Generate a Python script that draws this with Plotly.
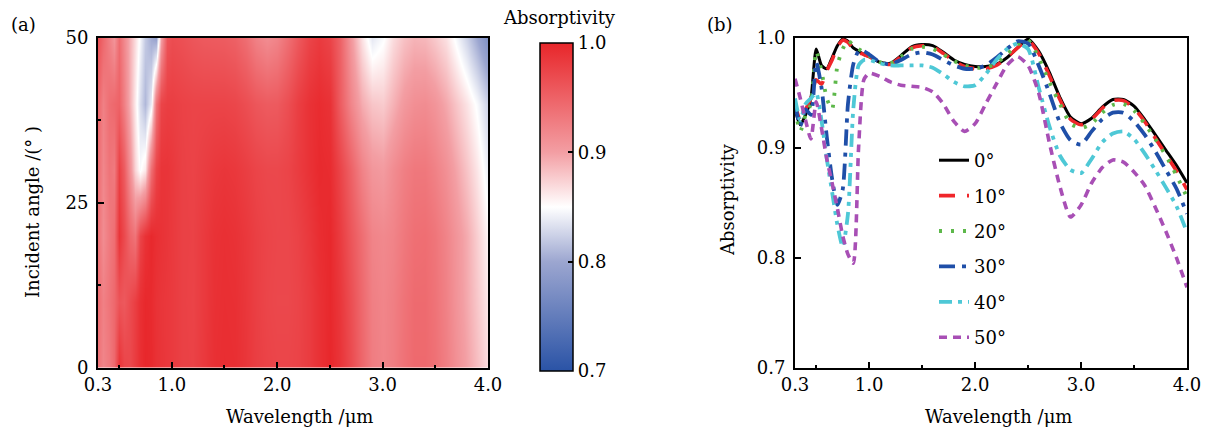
import plotly.graph_objects as go

# ---------------- data ----------------
wavelength = [0.30, 0.35, 0.40, 0.45, 0.50, 0.55, 0.60, 0.65, 0.70, 0.75, 0.80, 0.85, 0.90, 0.95,
              1.00, 1.10, 1.20, 1.30, 1.40, 1.50, 1.60, 1.70, 1.80, 1.90, 2.00, 2.10, 2.20, 2.30,
              2.40, 2.50, 2.60, 2.70, 2.80, 2.90, 3.00, 3.10, 3.20, 3.30, 3.40, 3.50, 3.60, 3.70,
              3.80, 3.90, 4.00]

angles = [0, 10, 20, 30, 40, 50]
angle_labels = ["0°", "10°", "20°", "30°", "40°", "50°"]

a0 = [0.935, 0.921, 0.930, 0.945, 0.990, 0.975, 0.972, 0.982, 0.993, 0.999, 0.997, 0.991, 0.988, 0.985,
      0.983, 0.978, 0.977, 0.984, 0.992, 0.994, 0.993, 0.987, 0.980, 0.976, 0.974, 0.974, 0.976, 0.982,
      0.991, 0.999, 0.988, 0.969, 0.946, 0.928, 0.922, 0.927, 0.937, 0.944, 0.944, 0.938, 0.926, 0.912,
      0.898, 0.884, 0.868]
a10 = [0.940, 0.925, 0.935, 0.945, 0.962, 0.958, 0.970, 0.980, 0.992, 0.998, 0.996, 0.990, 0.987, 0.985,
       0.983, 0.978, 0.976, 0.983, 0.991, 0.993, 0.992, 0.986, 0.979, 0.974, 0.972, 0.972, 0.975, 0.982,
       0.991, 0.998, 0.986, 0.966, 0.944, 0.926, 0.921, 0.926, 0.936, 0.943, 0.943, 0.936, 0.924, 0.909,
       0.894, 0.879, 0.862]
a20 = [0.935, 0.915, 0.930, 0.940, 0.988, 0.970, 0.945, 0.935, 0.975, 0.990, 0.998, 0.993, 0.990, 0.987,
       0.984, 0.978, 0.977, 0.983, 0.990, 0.992, 0.990, 0.985, 0.979, 0.975, 0.973, 0.973, 0.977, 0.985,
       0.994, 0.998, 0.982, 0.960, 0.940, 0.922, 0.918, 0.922, 0.932, 0.939, 0.940, 0.934, 0.922, 0.908,
       0.893, 0.875, 0.855]
a30 = [0.940, 0.920, 0.935, 0.930, 0.978, 0.955, 0.910, 0.872, 0.848, 0.862, 0.940, 0.976, 0.988, 0.988,
       0.985, 0.978, 0.976, 0.980, 0.985, 0.987, 0.985, 0.980, 0.975, 0.972, 0.972, 0.975, 0.982, 0.990,
       0.997, 0.995, 0.975, 0.950, 0.923, 0.907, 0.903, 0.915, 0.926, 0.932, 0.932, 0.924, 0.912, 0.897,
       0.880, 0.863, 0.840]
a40 = [0.945, 0.925, 0.940, 0.945, 0.950, 0.925, 0.890, 0.860, 0.830, 0.810, 0.840, 0.935, 0.975, 0.980,
       0.980, 0.977, 0.975, 0.975, 0.975, 0.975, 0.973, 0.967, 0.960, 0.956, 0.957, 0.967, 0.980, 0.990,
       0.995, 0.990, 0.955, 0.920, 0.893, 0.880, 0.877, 0.890, 0.905, 0.913, 0.915, 0.908, 0.895, 0.880,
       0.864, 0.847, 0.823]
a50 = [0.963, 0.945, 0.925, 0.908, 0.942, 0.918, 0.890, 0.868, 0.845, 0.820, 0.803, 0.795, 0.900, 0.962,
       0.968, 0.965, 0.960, 0.957, 0.956, 0.955, 0.951, 0.940, 0.924, 0.915, 0.922, 0.940, 0.958, 0.975,
       0.983, 0.975, 0.950, 0.905, 0.865, 0.837, 0.848, 0.868, 0.882, 0.889, 0.887, 0.878, 0.866, 0.846,
       0.824, 0.800, 0.773]

series = [a0, a10, a20, a30, a40, a50]

x_ticks = [0.3, 1.0, 2.0, 3.0, 4.0]
x_ticktext = ["0.3", "1.0", "2.0", "3.0", "4.0"]
x_minor = [0.5, 1.5, 2.5, 3.5]
ya_ticks = [0, 25, 50]
ya_minor = [12.5, 37.5]
yb_ticks = [0.7, 0.8, 0.9, 1.0]
yb_ticktext = ["0.7", "0.8", "0.9", "1.0"]
cb_ticks = [0.7, 0.8, 0.9, 1.0]

# ---------------- styles ----------------
W, H = 1207, 430
FONT = "DejaVu Serif"
FS = 18
line_colors = ["#000000", "#f0262a", "#5db84a", "#1f4fa8", "#4ec8d6", "#a84fb5"]
line_dash = ["solid", "16px,12px", "3px,9px", "16px,7px,4px,7px", "13px,6px,4px,6px,4px,6px", "8px,6px"]
line_width = [3.0, 3.6, 3.8, 3.8, 3.8, 3.6]

colorscale = [[0.0, "#2a53a6"], [0.333, "#9ca6d0"], [0.5, "#ffffff"], [0.667, "#f39ea3"], [1.0, "#e8262a"]]


def px_x(v):
    return v / W


def px_y(v):
    return 1 - v / H


fig = go.Figure()

fig.add_trace(go.Heatmap(
    x=wavelength, y=angles, z=series,
    zmin=0.7, zmax=1.0, zsmooth="best",
    colorscale=colorscale,
    xaxis="x", yaxis="y",
    showlegend=False,
    colorbar=dict(
        x=px_x(540), xanchor="left", xpad=0,
        y=px_y(207), yanchor="middle", ypad=0,
        len=328 / H, lenmode="fraction",
        thickness=33, thicknessmode="pixels",
        outlinecolor="black", outlinewidth=1.5,
        tickvals=cb_ticks, ticktext=["0.7", "0.8", "0.9", "1.0"],
        ticks="inside", ticklen=5, tickwidth=2, tickcolor="black",
        tickfont=dict(family=FONT, size=FS, color="black"),
        ticklabelposition="outside",
    ),
))

for i, s in enumerate(series):
    fig.add_trace(go.Scatter(
        x=wavelength, y=s, mode="lines",
        name=angle_labels[i], legendgroup=angle_labels[i],
        line=dict(color=line_colors[i], dash=line_dash[i], width=line_width[i],
                  shape="spline", smoothing=0.6),
        xaxis="x2", yaxis="y2",
    ))

axis_common = dict(
    showline=True, linecolor="black", linewidth=2, mirror=True,
    ticks="inside", ticklen=6, tickwidth=2, tickcolor="black",
    tickfont=dict(family=FONT, size=FS, color="black"),
    showgrid=False, zeroline=False, automargin=False,
)

ydom = [px_y(367.5), px_y(38)]

fig.update_layout(
    width=W, height=H,
    margin=dict(l=0, r=0, t=0, b=0),
    paper_bgcolor="white", plot_bgcolor="white",
    font=dict(family=FONT, size=FS, color="black"),
    xaxis=dict(domain=[px_x(98), px_x(488)], range=[0.3, 4.0], anchor="y",
               tickvals=x_ticks, ticktext=x_ticktext,
               minor=dict(tickvals=x_minor, ticks="inside", ticklen=3, tickwidth=1.5, tickcolor="black"),
               **axis_common),
    yaxis=dict(domain=ydom, range=[0, 50], anchor="x",
               tickvals=ya_ticks, ticktext=[str(t) for t in ya_ticks],
               minor=dict(tickvals=ya_minor, ticks="inside", ticklen=3, tickwidth=1.5, tickcolor="black"),
               ticklabelstandoff=4,
               **axis_common),
    xaxis2=dict(domain=[px_x(795), px_x(1187)], range=[0.3, 4.0], anchor="y2",
                tickvals=x_ticks, ticktext=x_ticktext,
                minor=dict(tickvals=x_minor, ticks="inside", ticklen=3, tickwidth=1.5, tickcolor="black"),
                **axis_common),
    yaxis2=dict(domain=ydom, range=[0.7, 1.0], anchor="x2",
                tickvals=yb_ticks, ticktext=yb_ticktext,
                ticklabelstandoff=4,
                **axis_common),
    legend=dict(
        x=px_x(934), xanchor="left", y=px_y(142), yanchor="top",
        bgcolor="rgba(0,0,0,0)", borderwidth=0,
        font=dict(family=FONT, size=FS, color="black"),
        tracegroupgap=9, itemwidth=30,
    ),
)

annots = [
    dict(text="(a)", x=px_x(23), y=px_y(25)),
    dict(text="(b)", x=px_x(720), y=px_y(25)),
    dict(text="Absorptivity", x=px_x(559), y=px_y(17)),
    dict(text="Wavelength /μm", x=px_x(299), y=px_y(416)),
    dict(text="Wavelength /μm", x=px_x(998), y=px_y(416)),
    dict(text="Incident angle /(° )", x=px_x(32), y=px_y(212), textangle=-90),
    dict(text="Absorptivity", x=px_x(728), y=px_y(200), textangle=-90),
]
for a in annots:
    fig.add_annotation(xref="paper", yref="paper", showarrow=False,
                       xanchor="center", yanchor="middle",
                       font=dict(family=FONT, size=FS, color="black"), **a)

fig.write_html(
    "out.html",
    config={"displayModeBar": False},
    post_script="document.body.style.margin='0px';document.body.style.padding='0px';"
                "document.documentElement.style.overflow='hidden';",
)
